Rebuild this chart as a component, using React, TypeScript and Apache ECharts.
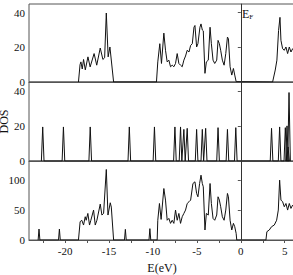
import React, { useEffect, useRef } from "react";
import * as echarts from "echarts";

// Top panel PDOS (E in eV, DOS)
const topE = [
  -18.48, -18.3, -18.2, -18.05, -17.9, -17.7, -17.4, -17.15, -16.7, -16.4, -16.0, -15.7, -15.5, -15.31, -15.1, -14.9, -14.48,
  -9.6, -9.45, -9.22, -9.03, -8.76, -8.57, -8.38, -8.19, -8.0, -7.81, -7.62, -7.43, -7.24, -7.05, -6.86, -6.67, -6.48, -6.29,
  -6.1, -5.9, -5.71, -5.52, -5.33, -5.22, -5.03, -4.88, -4.65, -4.53, -4.38, -4.27, -4.08, -3.92, -3.7, -3.5, -3.35, -3.16,
  -2.97, -2.74, -2.59, -2.44, -2.29, -2.1, -1.9, -1.71, -1.52, -1.41, -1.22, -1.03, -0.84, -0.69, -0.53, -0.46,
  3.62, 3.92, 4.11, 4.3, 4.46, 4.57, 4.76, 4.95, 5.14, 5.33, 5.52, 5.71, 5.9, 6.1,
];
const topV = [
  0, 10, 11.6, 7.5, 13, 7, 14.5, 8.7, 16.4, 9.7, 19.6, 13, 14, 39.8, 14.5, 20.2, 0,
  0, 11.6, 22.1, 10.7, 28.2, 18.3, 11.6, 12.6, 8.8, 9.7, 8.8, 10.7, 16.4, 10.7, 9.7, 8.8, 12.6, 15,
  18.3, 17.3, 21.1, 22.1, 31.6, 32.6, 20.2, 22.1, 31.6, 33.5, 30, 29.5, 5, 11.6, 12.6, 31.6, 22.1, 12.6,
  10.7, 12.6, 24, 22.1, 18.3, 12.6, 9.7, 16.4, 25.9, 25, 8.8, 4, 7.8, 4, 0.2, 0,
  0, 6.9, 12.6, 29.7, 37.3, 24, 19.2, 18.3, 20.2, 16.4, 20.2, 17.3, 19.2, 18,
];

// Middle panel: sharp levels
const midPeakE = [-22.55, -20.19, -17.14, -12.69, -9.83, -7.5, -6.86, -6.48, -6.1, -5.03, -4.38, -4.0, -2.59, -1.52, -0.57, 3.5, 4.42, 5.07, 5.26, 5.38, 5.49];
const midPeakV = [19.4, 19.4, 19.4, 19.4, 19.4, 19.4, 19.4, 18, 18.6, 18, 18, 18.6, 19, 18, 19, 18.6, 19.4, 19, 20, 8, 39];

// Bottom panel total DOS
const botSpikeE = [-22.97, -20.65, -13.14, -10.35];
const botSpikeV = [18.3, 18.3, 17.8, 19];
const botE = [
  -18.48, -18.29, -18.1, -17.9, -17.71, -17.6, -17.41, -17.22, -17.07, -16.76, -16.57, -16.38, -16.0, -15.81, -15.62, -15.31, -15.12, -14.86, -14.74, -14.48,
  -9.52, -9.45, -9.26, -9.07, -8.76, -8.57, -8.38, -8.19, -8.0, -7.81, -7.62, -7.43, -7.24, -7.05, -6.86, -6.67, -6.48, -6.29,
  -6.1, -5.9, -5.71, -5.45, -5.22, -5.03, -4.88, -4.69, -4.53, -4.38, -4.27, -4.08, -3.92, -3.7, -3.5, -3.35, -3.16, -2.97,
  -2.74, -2.59, -2.44, -2.29, -2.1, -1.9, -1.71, -1.52, -1.41, -1.22, -1.03, -0.84, -0.69, -0.53, -0.46,
  2.86, 2.97, 3.24, 3.5, 3.81, 4.08, 4.27, 4.42, 4.57, 4.76, 4.95, 5.14, 5.33, 5.52, 5.71, 5.9, 6.1,
];
const botV = [
  0, 30.6, 33, 25, 38.9, 33, 44.4, 25, 33, 50, 25, 33, 60, 41.7, 44.4, 117.8, 41.7, 62.2, 55, 0,
  0, 33, 61, 34.4, 86, 66.7, 33, 36.1, 27.8, 33, 27.8, 50, 33, 44.4, 27.8, 38.9, 44.4, 50,
  61, 63.9, 66.7, 94.4, 97.2, 77.8, 72.2, 94.4, 108.3, 94.4, 88.9, 16.7, 44.4, 41.7, 94.4, 61, 36.1, 33,
  41.7, 72.2, 66.7, 55.6, 38.9, 33, 50, 77.8, 72.2, 33, 16.7, 27.8, 22.2, 11, 0,
  0, 13.9, 16.7, 22.2, 25, 33, 50, 100, 66.7, 63.9, 55.6, 61, 50, 61, 52.8, 58.3, 55,
];

const xTickLabels = [-20, -15, -10, -5, 0, 5];
const xTickMarks = [-22.5, -20, -17.5, -15, -12.5, -10, -7.5, -5, -2.5, 0, 2.5, 5];
const yTicksSmall = [0, 20, 40];
const yTicksBig = [0, 50, 100];

const FONT = "Liberation Serif, serif";
const FRAME = "#555";
const INK = "#111";

function spikes(pos: number[], h: number[], w: number): number[][] {
  const pts: number[][] = [];
  pos.forEach((p, i) => {
    pts.push([p - w, 0], [p, h[i]], [p + w, 0]);
  });
  return pts;
}

function pairs(xs: number[], ys: number[]): number[][] {
  return xs.map((x, i) => [x, ys[i]]);
}

export default function App() {
  const ref = useRef<HTMLDivElement>(null);
  useEffect(() => {
    if (!ref.current) return;
    const chart = echarts.init(ref.current, undefined, { renderer: "svg" });
    const XMIN = -24.11;
    const XMAX = 6.17;
    const grids = [
      { left: 29, top: 4, width: 266, height: 78 },
      { left: 29, top: 82, width: 266, height: 79 },
      { left: 29, top: 161, width: 266, height: 79 },
    ].map((g) => ({
      ...g,
      show: true,
      borderColor: FRAME,
      borderWidth: 1,
      backgroundColor: "transparent",
      containLabel: false,
      outerBoundsMode: "none",
    }));

    const xAxes = [0, 1, 2].map((i) => ({
      type: "value",
      gridIndex: i,
      min: XMIN,
      max: XMAX,
      splitLine: { show: false },
      axisLine: { show: true, onZero: false, lineStyle: { color: FRAME, width: 1 } },
      axisTick: i === 2
        ? { show: true, length: 3, customValues: xTickMarks, lineStyle: { color: FRAME } }
        : { show: false },
      axisLabel: i === 2
        ? { show: true, customValues: xTickLabels, color: INK, fontFamily: FONT, fontSize: 11, margin: 5 }
        : { show: false },
      name: i === 2 ? "E(eV)" : "",
      nameLocation: "middle",
      nameGap: 22,
      nameMoveOverlap: false,
      nameTextStyle: { color: INK, fontFamily: FONT, fontSize: 12 },
    }));
    const yMax = [45, 45, 132];
    const yAxes = [0, 1, 2].map((i) => ({
      type: "value",
      gridIndex: i,
      min: 0,
      max: yMax[i],
      splitLine: { show: false },
      axisLine: { show: true, lineStyle: { color: FRAME, width: 1 } },
      axisTick: { show: true, length: 3, customValues: i === 2 ? yTicksBig : yTicksSmall, lineStyle: { color: FRAME } },
      axisLabel: { show: true, customValues: i === 2 ? yTicksBig : yTicksSmall, color: INK, fontFamily: FONT, fontSize: 11, margin: 4 },
      name: i === 1 ? "DOS" : "",
      nameLocation: "middle",
      nameRotate: 90,
      nameGap: 19,
      nameMoveOverlap: false,
      nameTextStyle: { color: INK, fontFamily: FONT, fontSize: 12 },
    }));

    const efLine = {
      silent: true,
      symbol: ["none", "none"],
      label: { show: false },
      lineStyle: { color: "#333", type: "solid", width: 1 },
      data: [{ xAxis: 0 }],
    };

    const lineSeries = (idx: number, data: number[][]) => ({
      type: "line",
      xAxisIndex: idx,
      yAxisIndex: idx,
      data,
      showSymbol: false,
      symbol: "none",
      lineStyle: { color: INK, width: 1 },
      markLine: efLine,
      z: 3,
    });

    const botData = [...spikes(botSpikeE.slice(0, 2), botSpikeV.slice(0, 2), 0.1), ...pairs(botE.slice(0, 20), botV.slice(0, 20)),
      ...spikes(botSpikeE.slice(2), botSpikeV.slice(2), 0.1), ...pairs(botE.slice(20), botV.slice(20))];

    chart.setOption({
      animation: false,
      grid: grids,
      xAxis: xAxes,
      yAxis: yAxes,
      series: [
        lineSeries(0, pairs(topE, topV)),
        lineSeries(1, spikes(midPeakE, midPeakV, 0.15)),
        lineSeries(2, botData),
      ],
      graphic: [
        {
          type: "text",
          x: 242,
          y: 7,
          style: {
            text: "{e|E}{f|F}",
            rich: {
              e: { fontFamily: FONT, fontSize: 12, fill: INK },
              f: { fontFamily: FONT, fontSize: 7, fill: INK, padding: [6, 0, 0, 0] },
            },
          },
        },
      ],
    });
    return () => chart.dispose();
  }, []);
  return <div ref={ref} style={{ position: "absolute", left: 0, top: 0, width: 293, height: 275 }} />;
}
